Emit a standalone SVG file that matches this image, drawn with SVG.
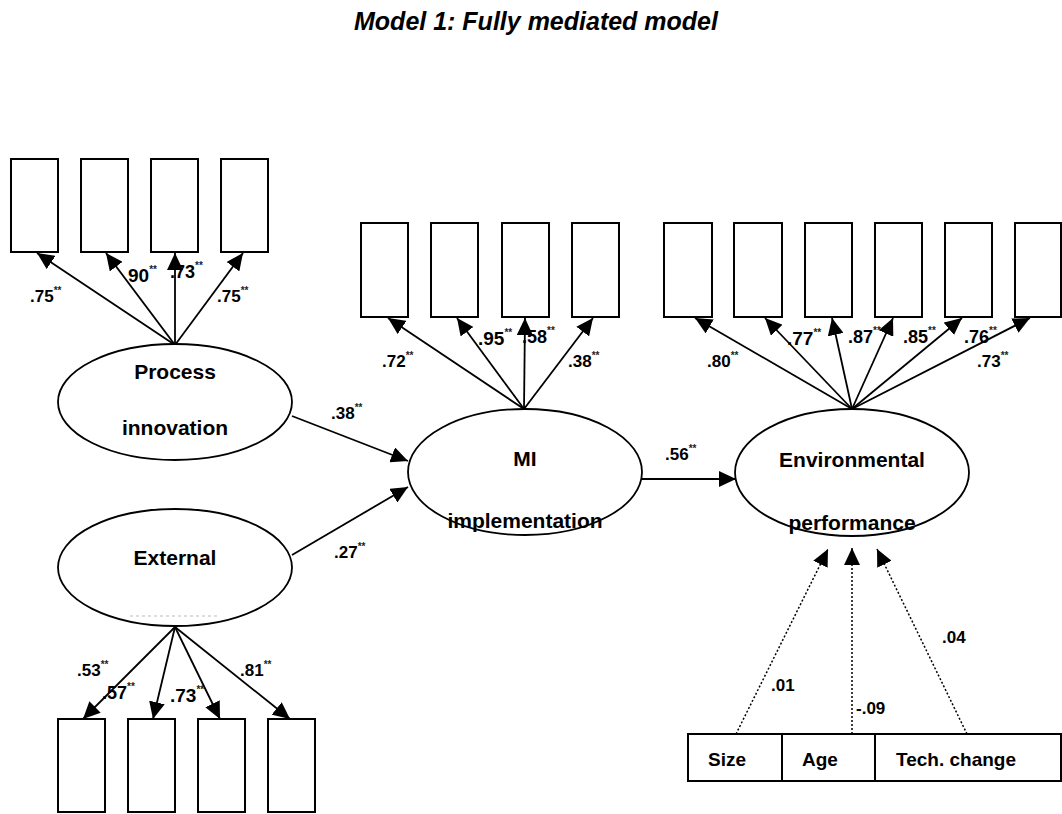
<svg xmlns="http://www.w3.org/2000/svg" width="1062" height="814" viewBox="0 0 1062 814">
  <style>
    text { font-family: "Liberation Sans", Arial, sans-serif; font-weight: bold; fill: #000; }
    .title { font-size: 25px; font-style: italic; }
    .node { font-size: 21px; text-anchor: middle; }
    .lbl { font-size: 17px; }
    .big { font-size: 19px; }
    .mid { font-size: 18px; }
    .ctl { font-size: 19px; }
    .st { font-size: 10px; fill: #222; }
    .box { fill: #fff; stroke: #000; stroke-width: 2; }
    .lat { fill: #fff; stroke: #000; stroke-width: 1.8; }
    .arr { stroke: #000; stroke-width: 1.8; fill: none; marker-end: url(#head); }
    .dot { stroke: #000; stroke-width: 1.5; fill: none; stroke-dasharray: 2 2; marker-end: url(#head); }
  </style>
  <defs>
    <marker id="head" markerUnits="userSpaceOnUse" markerWidth="18" markerHeight="16" refX="17" refY="8" orient="auto">
      <path d="M0,0 L17,8 L0,16 z" fill="#000"/>
    </marker>
  </defs>

  <rect width="1062" height="814" fill="#fff"/>

  <text class="title" x="536" y="30" text-anchor="middle">Model 1: Fully mediated model</text>

  <!-- connectors -->
  <g id="connectors">
    <!-- process innovation indicators -->
    <line class="arr" x1="175" y1="345" x2="37" y2="253"/>
    <line class="arr" x1="175" y1="345" x2="106" y2="253"/>
    <line class="arr" x1="175" y1="345" x2="175" y2="253"/>
    <line class="arr" x1="175" y1="345" x2="243" y2="253"/>
    <!-- MI implementation indicators -->
    <line class="arr" x1="524" y1="409" x2="388" y2="318"/>
    <line class="arr" x1="524" y1="409" x2="457" y2="318"/>
    <line class="arr" x1="524" y1="409" x2="525" y2="318"/>
    <line class="arr" x1="524" y1="409" x2="593" y2="318"/>
    <!-- environmental performance indicators -->
    <line class="arr" x1="852" y1="409" x2="695" y2="318"/>
    <line class="arr" x1="852" y1="409" x2="765" y2="318"/>
    <line class="arr" x1="852" y1="409" x2="832" y2="318"/>
    <line class="arr" x1="852" y1="409" x2="893" y2="318"/>
    <line class="arr" x1="852" y1="409" x2="962" y2="318"/>
    <line class="arr" x1="852" y1="409" x2="1030" y2="318"/>
    <!-- external indicators -->
    <line class="arr" x1="175" y1="627" x2="83" y2="719"/>
    <line class="arr" x1="175" y1="627" x2="153" y2="719"/>
    <line class="arr" x1="175" y1="627" x2="220" y2="719"/>
    <line class="arr" x1="175" y1="627" x2="290" y2="719"/>
    <!-- structural paths -->
    <line class="arr" x1="292" y1="416" x2="408" y2="461"/>
    <line class="arr" x1="292" y1="555" x2="408" y2="487"/>
    <line class="arr" x1="642" y1="479" x2="736" y2="479"/>
    <!-- control paths -->
    <line class="dot" x1="736" y1="734" x2="828" y2="549"/>
    <line class="dot" x1="852" y1="734" x2="852" y2="548"/>
    <line class="dot" x1="967" y1="734" x2="877" y2="549"/>
  </g>

  <!-- indicator boxes -->
  <g id="process-items">
    <rect class="box" x="11" y="159" width="47" height="93"/>
    <rect class="box" x="81" y="159" width="47" height="93"/>
    <rect class="box" x="151" y="159" width="47" height="93"/>
    <rect class="box" x="221" y="159" width="47" height="93"/>
  </g>
  <g id="mi-items">
    <rect class="box" x="361" y="223" width="47" height="94"/>
    <rect class="box" x="431" y="223" width="47" height="94"/>
    <rect class="box" x="502" y="223" width="47" height="94"/>
    <rect class="box" x="572" y="223" width="47" height="94"/>
  </g>
  <g id="env-items">
    <rect class="box" x="664" y="223" width="48" height="94"/>
    <rect class="box" x="734" y="223" width="48" height="94"/>
    <rect class="box" x="805" y="223" width="47" height="94"/>
    <rect class="box" x="875" y="223" width="47" height="94"/>
    <rect class="box" x="945" y="223" width="47" height="94"/>
    <rect class="box" x="1015" y="223" width="46" height="94"/>
  </g>
  <g id="external-items">
    <rect class="box" x="58" y="719" width="47" height="93"/>
    <rect class="box" x="128" y="719" width="47" height="93"/>
    <rect class="box" x="198" y="719" width="47" height="93"/>
    <rect class="box" x="268" y="719" width="47" height="93"/>
  </g>

  <!-- latent variables -->
  <g id="process-innovation">
    <ellipse class="lat" cx="175" cy="402" rx="117" ry="58"/>
    <text class="node" x="175" y="379">Process</text>
    <text class="node" x="175" y="435">innovation</text>
  </g>
  <g id="external">
    <ellipse class="lat" cx="175" cy="567.5" rx="117" ry="58.5"/>
    <text class="node" x="175" y="565">External</text>
    <line x1="130" y1="616" x2="218" y2="616" stroke="#bbb" stroke-width="1" stroke-dasharray="3 3"/>
  </g>
  <g id="mi-implementation">
    <ellipse class="lat" cx="525" cy="472" rx="117" ry="63"/>
    <text class="node" x="525" y="466">MI</text>
    <text class="node" x="525" y="528">implementation</text>
  </g>
  <g id="environmental-performance">
    <ellipse class="lat" cx="852" cy="472.5" rx="117" ry="63.5"/>
    <text class="node" x="852" y="467">Environmental</text>
    <text class="node" x="852" y="530">performance</text>
  </g>

  <!-- control variables -->
  <g id="controls">
    <rect class="box" x="688" y="734" width="373" height="47"/>
    <line x1="782" y1="734" x2="782" y2="781" stroke="#000" stroke-width="2"/>
    <line x1="875" y1="734" x2="875" y2="781" stroke="#000" stroke-width="2"/>
    <text class="ctl" x="708" y="766">Size</text>
    <text class="ctl" x="802" y="766">Age</text>
    <text class="ctl" x="896" y="766">Tech. change</text>
  </g>

  <!-- coefficients -->
  <g id="coefficients">
    <text class="lbl" x="30" y="302">.75<tspan class="st" dy="-8">**</tspan></text>
    <text class="big" x="128" y="282">90<tspan class="st" dy="-9">**</tspan></text>
    <text class="mid" x="170" y="278">.73<tspan class="st" dy="-9">**</tspan></text>
    <text class="lbl" x="217" y="302">.75<tspan class="st" dy="-8">**</tspan></text>

    <text class="lbl" x="382" y="367">.72<tspan class="st" dy="-8">**</tspan></text>
    <text class="big" x="478" y="345">.95<tspan class="st" dy="-9">**</tspan></text>
    <text class="mid" x="522" y="343">.58<tspan class="st" dy="-9">**</tspan></text>
    <text class="lbl" x="568" y="367">.38<tspan class="st" dy="-8">**</tspan></text>

    <text class="lbl" x="707" y="367">.80<tspan class="st" dy="-8">**</tspan></text>
    <text class="big" x="787" y="345">.77<tspan class="st" dy="-9">**</tspan></text>
    <text class="mid" x="848" y="343">.87<tspan class="st" dy="-9">**</tspan></text>
    <text class="mid" x="903" y="343">.85<tspan class="st" dy="-9">**</tspan></text>
    <text class="mid" x="964" y="343">.76<tspan class="st" dy="-9">**</tspan></text>
    <text class="lbl" x="977" y="367">.73<tspan class="st" dy="-8">**</tspan></text>

    <text class="lbl" x="77" y="676">.53<tspan class="st" dy="-8">**</tspan></text>
    <text class="mid" x="102" y="699">.57<tspan class="st" dy="-9">**</tspan></text>
    <text class="big" x="170" y="702">.73<tspan class="st" dy="-9">**</tspan></text>
    <text class="lbl" x="240" y="676">.81<tspan class="st" dy="-8">**</tspan></text>

    <text class="lbl" x="331" y="419">.38<tspan class="st" dy="-8">**</tspan></text>
    <text class="lbl" x="334" y="558">.27<tspan class="st" dy="-8">**</tspan></text>
    <text class="lbl" x="665" y="460">.56<tspan class="st" dy="-8">**</tspan></text>

    <text class="lbl" x="771" y="691">.01</text>
    <text class="lbl" x="856" y="714">-.09</text>
    <text class="lbl" x="942" y="643">.04</text>
  </g>
</svg>
